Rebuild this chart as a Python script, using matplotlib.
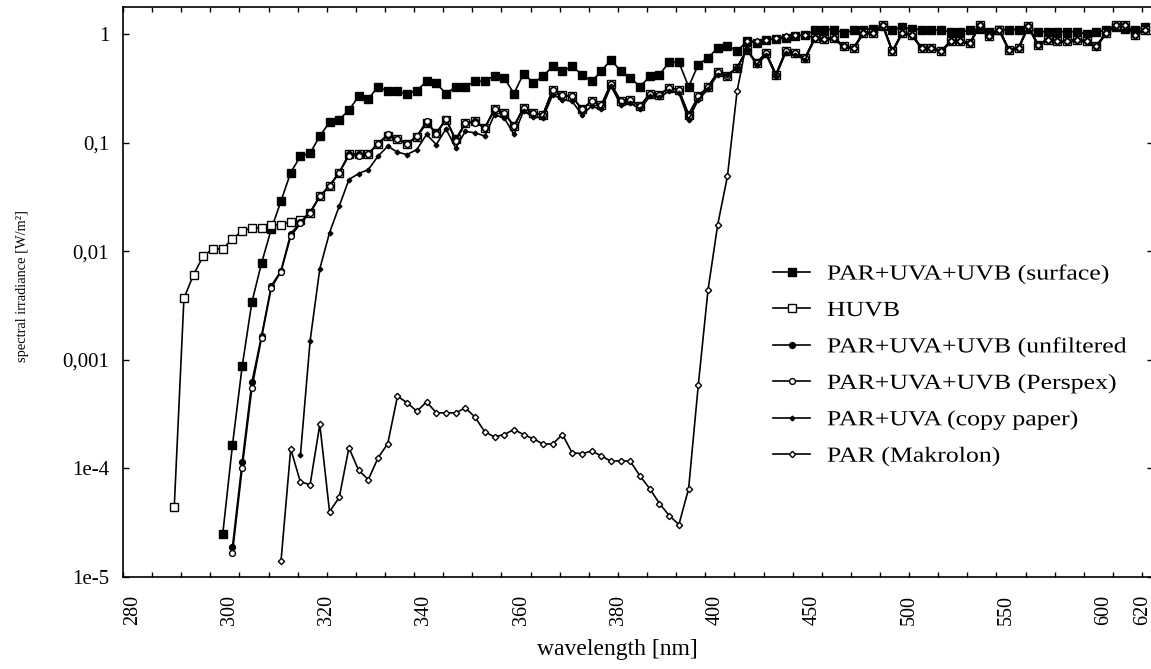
import numpy as np
import matplotlib

matplotlib.use("Agg")
import matplotlib.pyplot as plt
from matplotlib.patheffects import AbstractPathEffect
from matplotlib.ticker import FixedLocator, NullLocator
from matplotlib.transforms import Affine2D

plt.rcParams["font.family"] = ["Liberation Serif", "DejaVu Serif"]

# wavelength axis: 2 nm steps up to 400 nm, 5 nm steps above (category-like axis)
LABEL_WL = [280, 300, 320, 340, 360, 380, 400, 450, 500, 550, 600, 620]
Y_TICKS = [1e-5, 1e-4, 1e-3, 1e-2, 1e-1, 1]
Y_TICK_LABELS = ["1e-5", "1e-4", "0,001", "0,01", "0,1", "1"]


def wl_grid(start):
    return np.r_[np.arange(start, 401, 2), np.arange(405, 621, 5)]


surface = [
    2.5e-5, 1.64e-4, 8.7e-4, 3.4e-3, 7.8e-3, 0.016, 0.029, 0.053, 0.075, 0.080,
    0.115, 0.154, 0.163, 0.199, 0.267, 0.253, 0.327, 0.297, 0.297, 0.281,
    0.302, 0.367, 0.355, 0.281, 0.327, 0.327, 0.367, 0.367, 0.415, 0.395,
    0.283, 0.433, 0.355, 0.409, 0.505, 0.454, 0.505, 0.424, 0.367, 0.454,
    0.582, 0.454, 0.395, 0.327, 0.409, 0.424, 0.550, 0.550, 0.327, 0.524,
    0.604, 0.746,
    0.784, 0.695, 0.859, 0.83, 0.89, 0.90, 0.92, 0.95, 0.98, 1.08,
    1.10, 1.10, 1.02, 1.08, 1.10, 1.12, 1.18, 1.10, 1.15, 1.12,
    1.10, 1.10, 1.08, 1.05, 1.05, 1.08, 1.12, 1.05, 1.08, 1.10,
    1.10, 1.12, 1.05, 1.05, 1.05, 1.05, 1.05, 1.00, 1.05, 1.08,
    1.15, 1.12, 1.10, 1.15,
]
huvb = [
    4.4e-5, 3.7e-3, 6.1e-3, 9.1e-3, 0.0105, 0.0105, 0.013, 0.0153, 0.0164, 0.0164,
    0.0176, 0.0176, 0.0185, 0.0193, 0.0226, 0.032, 0.040, 0.053, 0.078, 0.078,
    0.079, 0.098, 0.116, 0.107, 0.098, 0.113, 0.152, 0.123, 0.163, 0.107,
    0.152, 0.157, 0.137, 0.202, 0.188, 0.142, 0.209, 0.188, 0.181, 0.308,
    0.272, 0.267, 0.202, 0.240, 0.220, 0.350, 0.240, 0.249, 0.216, 0.283,
    0.277, 0.320, 0.304, 0.181, 0.267, 0.326, 0.445,
    0.415, 0.489, 0.72, 0.543, 0.67, 0.424, 0.695, 0.67, 0.604, 0.92,
    0.90, 0.92, 0.77, 0.746, 1.03, 1.03, 1.22, 0.695, 1.03, 0.99,
    0.746, 0.746, 0.695, 0.86, 0.86, 0.83, 1.22, 0.955, 1.10, 0.72,
    0.746, 1.18, 0.80, 0.89, 0.86, 0.86, 0.89, 0.86, 0.77, 1.03,
    1.22, 1.22, 0.99, 1.10,
]
unfiltered = [
    1.9e-5, 1.14e-4, 6.2e-4, 1.67e-3, 4.8e-3, 6.6e-3, 0.0145, 0.0185, 0.023, 0.032,
    0.040, 0.053, 0.078, 0.078, 0.079, 0.098, 0.116, 0.107, 0.098, 0.113,
    0.152, 0.123, 0.163, 0.107, 0.152, 0.157, 0.137, 0.202, 0.188, 0.142,
    0.209, 0.188, 0.181, 0.308, 0.272, 0.267, 0.202, 0.240, 0.220, 0.350,
    0.240, 0.249, 0.216, 0.283, 0.277, 0.320, 0.304, 0.181, 0.267, 0.326,
    0.445,
    0.415, 0.489, 0.72, 0.543, 0.67, 0.424, 0.695, 0.67, 0.604, 0.92,
    0.90, 0.92, 0.77, 0.746, 1.03, 1.03, 1.22, 0.695, 1.03, 0.99,
    0.746, 0.746, 0.695, 0.86, 0.86, 0.83, 1.22, 0.955, 1.10, 0.72,
    0.746, 1.18, 0.80, 0.89, 0.86, 0.86, 0.89, 0.86, 0.77, 1.03,
    1.22, 1.22, 0.99, 1.10,
]
perspex = [
    1.67e-5, 1.01e-4, 5.5e-4, 1.6e-3, 4.6e-3, 6.5e-3, 0.0137, 0.018, 0.0226, 0.032,
    0.040, 0.053, 0.076, 0.076, 0.079, 0.098, 0.119, 0.108, 0.098, 0.115,
    0.157, 0.119, 0.166, 0.103, 0.152, 0.153, 0.137, 0.202, 0.188, 0.142,
    0.209, 0.188, 0.181, 0.308, 0.272, 0.267, 0.202, 0.240, 0.220, 0.350,
    0.240, 0.249, 0.216, 0.283, 0.277, 0.320, 0.304, 0.175, 0.267, 0.326,
    0.445,
    0.415, 0.489, 0.72, 0.543, 0.67, 0.424, 0.695, 0.67, 0.604, 0.92,
    0.90, 0.92, 0.77, 0.746, 1.03, 1.03, 1.22, 0.695, 1.03, 0.99,
    0.746, 0.746, 0.695, 0.86, 0.86, 0.83, 1.22, 0.955, 1.10, 0.72,
    0.746, 1.18, 0.80, 0.89, 0.86, 0.86, 0.89, 0.86, 0.77, 1.03,
    1.22, 1.22, 0.99, 1.10,
]
copy_paper = [
    1.32e-4, 1.5e-3, 6.9e-3, 0.0148, 0.026, 0.0457, 0.0519, 0.0565, 0.075, 0.0927,
    0.0816, 0.0777, 0.0864, 0.119, 0.096, 0.134, 0.0896, 0.127, 0.123, 0.115,
    0.181, 0.169, 0.119, 0.195, 0.172, 0.169, 0.277, 0.249, 0.240, 0.181,
    0.216, 0.202, 0.331, 0.224, 0.232, 0.202, 0.267, 0.262, 0.297, 0.287,
    0.163, 0.249, 0.309, 0.424,
    0.424, 0.489, 0.72, 0.52, 0.64, 0.41, 0.67, 0.64, 0.58, 0.90,
    0.88, 0.90, 0.75, 0.73, 1.00, 1.00, 1.18, 0.68, 1.00, 0.97,
    0.73, 0.73, 0.68, 0.84, 0.84, 0.81, 1.18, 0.93, 1.07, 0.70,
    0.73, 1.15, 0.78, 0.87, 0.84, 0.84, 0.87, 0.84, 0.75, 1.00,
    1.18, 1.18, 0.97, 1.07,
]
makrolon = [
    1.4e-5, 1.51e-4, 7.5e-5, 7.1e-5, 2.54e-4, 4.0e-5, 5.4e-5, 1.55e-4, 9.6e-5, 7.9e-5,
    1.25e-4, 1.69e-4, 4.62e-4, 4.02e-4, 3.36e-4, 4.1e-4, 3.25e-4, 3.25e-4, 3.25e-4, 3.61e-4,
    2.96e-4, 2.17e-4, 1.95e-4, 2.05e-4, 2.28e-4, 2.05e-4, 1.87e-4, 1.68e-4, 1.68e-4, 2.05e-4,
    1.39e-4, 1.37e-4, 1.44e-4, 1.31e-4, 1.16e-4, 1.18e-4, 1.16e-4, 8.5e-5, 6.5e-5, 4.75e-5,
    3.68e-5, 3.04e-5, 6.5e-5, 5.9e-4, 4.4e-3, 0.0176,
    0.049, 0.30, 0.86, 0.86, 0.89, 0.92, 0.95, 0.97, 0.98, 0.92,
    0.90, 0.92, 0.77, 0.746, 1.03, 1.03, 1.22, 0.695, 1.03, 0.99,
    0.746, 0.746, 0.695, 0.86, 0.86, 0.83, 1.22, 0.955, 1.10, 0.72,
    0.746, 1.18, 0.80, 0.89, 0.86, 0.86, 0.89, 0.86, 0.77, 1.03,
    1.22, 1.22, 0.99, 1.10,
]

SERIES = [
    ("PAR+UVA+UVB (surface)", 298, surface, dict(marker="s", ms=6.4, mfc="black")),
    ("HUVB", 288, huvb, dict(marker="s", ms=6.4, mfc="white")),
    ("PAR+UVA+UVB (unfiltered", 300, unfiltered, dict(marker="o", ms=4.2, mfc="black")),
    ("PAR+UVA+UVB (Perspex)", 300, perspex, dict(marker="o", ms=4.2, mfc="white")),
    ("PAR+UVA (copy paper)", 314, copy_paper, dict(marker="D", ms=2.4, mfc="black")),
    ("PAR (Makrolon)", 310, makrolon, dict(marker="D", ms=3.2, mfc="white")),
]


class Stretch(AbstractPathEffect):
    """Widen glyphs along the text direction (the original export uses a wide face)."""

    def __init__(self, sx, anchor="left"):
        super().__init__()
        self.sx = sx
        self.anchor = anchor

    def draw_path(self, renderer, gc, tpath, affine, rgbFace=None):
        ext = tpath.get_extents()
        a = {"left": ext.x0, "right": ext.x1}.get(self.anchor, (ext.x0 + ext.x1) / 2)
        st = Affine2D().translate(-a, 0).scale(self.sx, 1).translate(a, 0)
        renderer.draw_path(gc, tpath, st + affine, rgbFace)


def fwd(w):
    w = np.asarray(w, dtype=float)
    return np.where(w <= 400, (w - 280) / 2.0, 60 + (w - 400) / 5.0)


def inv(p):
    p = np.asarray(p, dtype=float)
    return np.where(p <= 60, 280 + 2.0 * p, 400 + 5.0 * (p - 60))


fig = plt.figure(figsize=(11.51, 6.69), dpi=100, facecolor="white")
ax = fig.add_axes([123 / 1151, (669 - 577) / 669, (1153 - 123) / 1151, (577 - 7) / 669])

for label, start, vals, style in SERIES:
    wl = wl_grid(start)
    assert len(wl) == len(vals), (label, len(wl), len(vals))
    ax.plot(wl, vals, color="black", lw=1.2, mec="black", mew=1.0, label=label, **style)

ax.set_xscale("function", functions=(fwd, inv))
ax.set_yscale("log")
ax.set_xlim(float(inv(-1.28)), float(inv(104.85)))
ax.set_ylim(1e-5, 1.774)

# labels sit a couple of pixels left of their data column in the original
ax.set_xticks(inv(fwd(LABEL_WL) - 0.27))
ax.set_xticklabels([str(w) for w in LABEL_WL], rotation=90, fontsize=14.5)
ax.xaxis.set_minor_locator(FixedLocator(inv(-1.28 + 3.0 * np.arange(36))))
ax.tick_params(axis="x", which="major", length=0, pad=13)
ax.tick_params(axis="x", which="minor", direction="in", length=3.5, width=1.0, top=True, bottom=True)

ax.set_yticks(Y_TICKS)
ax.set_yticklabels(Y_TICK_LABELS, fontsize=15)
ax.yaxis.set_minor_locator(NullLocator())
ax.tick_params(axis="y", which="major", direction="in", length=4.5, width=1.0, left=True, right=True, pad=10)

for sp in ax.spines.values():
    sp.set_linewidth(1.2)

fig.text(617 / 1151, 1 - 650 / 669, "wavelength [nm]", ha="center", va="center", fontsize=17)
fig.text(23 / 1151, 1 - 286 / 669, "spectral irradiance [W/m²]", rotation=90,
         ha="center", va="center", fontsize=10.4)

leg = ax.legend(
    loc="upper left",
    bbox_to_anchor=(773 / 1151, 1 - 264.5 / 669),
    bbox_transform=fig.transFigure,
    frameon=False,
    fontsize=15.5,
    handlelength=1.72,
    handletextpad=0.79,
    labelspacing=0.76,
    borderpad=0,
    borderaxespad=0,
)
for t in leg.get_texts():
    t.set_path_effects([Stretch(1.2, "left")])

fig.savefig("out.png", dpi=100, facecolor="white")
